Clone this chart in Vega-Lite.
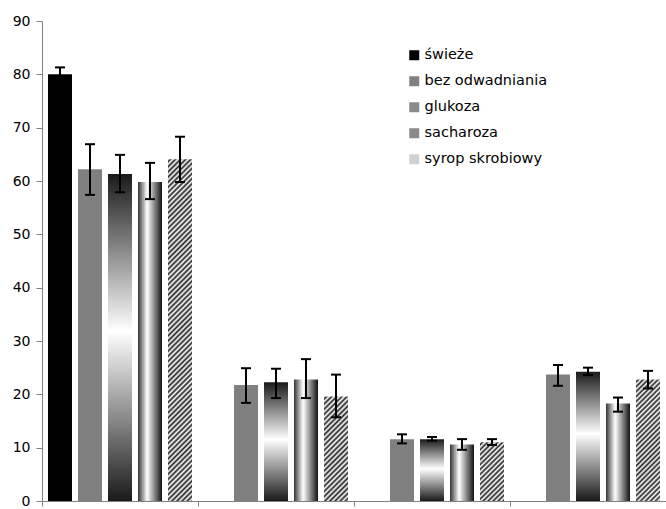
{
  "$schema": "https://vega.github.io/schema/vega-lite/v6.json",
  "width": 624,
  "height": 480,
  "autosize": {"type": "none"},
  "padding": {"left": 42, "top": 21, "right": 0, "bottom": 8},
  "background": "white",
  "config": {"view": {"stroke": null}, "font": "DejaVu Sans"},
  "data": {"values": [
    {"g": "1", "s": "świeże", "v": 80, "lo": 78.8, "hi": 81.3},
    {"g": "1", "s": "bez odwadniania", "v": 62.2, "lo": 57.4, "hi": 66.9},
    {"g": "1", "s": "glukoza", "v": 61.3, "lo": 57.9, "hi": 64.9},
    {"g": "1", "s": "sacharoza", "v": 59.8, "lo": 56.6, "hi": 63.4},
    {"g": "1", "s": "syrop skrobiowy", "v": 64.1, "lo": 59.8, "hi": 68.3},
    {"g": "2", "s": "bez odwadniania", "v": 21.75, "lo": 18.4, "hi": 24.9},
    {"g": "2", "s": "glukoza", "v": 22.25, "lo": 19.3, "hi": 24.8},
    {"g": "2", "s": "sacharoza", "v": 22.8, "lo": 19.3, "hi": 26.6},
    {"g": "2", "s": "syrop skrobiowy", "v": 19.6, "lo": 15.7, "hi": 23.7},
    {"g": "3", "s": "bez odwadniania", "v": 11.6, "lo": 10.8, "hi": 12.5},
    {"g": "3", "s": "glukoza", "v": 11.6, "lo": 11.3, "hi": 12.0},
    {"g": "3", "s": "sacharoza", "v": 10.6, "lo": 9.6, "hi": 11.6},
    {"g": "3", "s": "syrop skrobiowy", "v": 11.0, "lo": 10.5, "hi": 11.6},
    {"g": "4", "s": "bez odwadniania", "v": 23.7, "lo": 21.6, "hi": 25.5},
    {"g": "4", "s": "glukoza", "v": 24.25, "lo": 23.6, "hi": 25.0},
    {"g": "4", "s": "sacharoza", "v": 18.3, "lo": 16.75, "hi": 19.4},
    {"g": "4", "s": "syrop skrobiowy", "v": 22.8, "lo": 21.1, "hi": 24.4}
  ]},
  "encoding": {
    "x": {"field": "g", "type": "nominal",
      "scale": {"paddingInner": 0, "paddingOuter": 0},
      "axis": {"labels": false, "title": null, "domainColor": "#808080", "tickColor": "#808080", "tickSize": 5, "bandPosition": 0, "grid": false}},
    "xOffset": {"field": "s", "type": "nominal",
      "scale": {"domain": ["świeże", "bez odwadniania", "glukoza", "sacharoza", "syrop skrobiowy"], "paddingInner": 0.2, "paddingOuter": 0.2}}
  },
  "layer": [
    {
      "mark": {"type": "bar"},
      "encoding": {
        "y": {"field": "v", "type": "quantitative",
          "scale": {"domain": [0, 90], "nice": false},
          "axis": {"values": [0, 10, 20, 30, 40, 50, 60, 70, 80, 90], "title": null, "grid": false,
            "domainColor": "#808080", "tickColor": "#808080", "tickSize": 6,
            "labelFont": "DejaVu Sans", "labelFontSize": 14, "labelColor": "#000000", "labelPadding": 6}},
        "fill": {
          "condition": [
            {"test": "datum.s === 'glukoza'", "value": {"gradient": "linear", "x1": 0, "y1": 0, "x2": 0, "y2": 1, "stops": [{"offset": 0, "color": "#1a1a1a"}, {"offset": 0.48, "color": "#ffffff"}, {"offset": 1, "color": "#1a1a1a"}]}},
            {"test": "datum.s === 'sacharoza'", "value": {"gradient": "linear", "x1": 0, "y1": 0, "x2": 1, "y2": 0, "stops": [{"offset": 0, "color": "#333333"}, {"offset": 0.38, "color": "#ffffff"}, {"offset": 1, "color": "#111111"}]}},
            {"test": "datum.s === 'syrop skrobiowy' && datum.g === '1'", "value": {"gradient": "linear", "x1": 0, "y1": 0, "x2": 0.0749, "y2": 1.0651, "stops": [
              {"offset":0,"color":"#fff"},{"offset":0.007,"color":"#222"},{"offset":0.014,"color":"#fff"},{"offset":0.021,"color":"#222"},{"offset":0.028,"color":"#fff"},{"offset":0.035,"color":"#222"},{"offset":0.042,"color":"#fff"},{"offset":0.049,"color":"#222"},{"offset":0.056,"color":"#fff"},{"offset":0.063,"color":"#222"},
              {"offset":0.07,"color":"#fff"},{"offset":0.077,"color":"#222"},{"offset":0.084,"color":"#fff"},{"offset":0.091,"color":"#222"},{"offset":0.098,"color":"#fff"},{"offset":0.105,"color":"#222"},{"offset":0.112,"color":"#fff"},{"offset":0.119,"color":"#222"},{"offset":0.126,"color":"#fff"},{"offset":0.133,"color":"#222"},
              {"offset":0.14,"color":"#fff"},{"offset":0.147,"color":"#222"},{"offset":0.154,"color":"#fff"},{"offset":0.161,"color":"#222"},{"offset":0.168,"color":"#fff"},{"offset":0.175,"color":"#222"},{"offset":0.182,"color":"#fff"},{"offset":0.189,"color":"#222"},{"offset":0.196,"color":"#fff"},{"offset":0.203,"color":"#222"},
              {"offset":0.21,"color":"#fff"},{"offset":0.217,"color":"#222"},{"offset":0.224,"color":"#fff"},{"offset":0.231,"color":"#222"},{"offset":0.238,"color":"#fff"},{"offset":0.245,"color":"#222"},{"offset":0.252,"color":"#fff"},{"offset":0.259,"color":"#222"},{"offset":0.266,"color":"#fff"},{"offset":0.273,"color":"#222"},
              {"offset":0.28,"color":"#fff"},{"offset":0.287,"color":"#222"},{"offset":0.294,"color":"#fff"},{"offset":0.301,"color":"#222"},{"offset":0.308,"color":"#fff"},{"offset":0.315,"color":"#222"},{"offset":0.322,"color":"#fff"},{"offset":0.329,"color":"#222"},{"offset":0.336,"color":"#fff"},{"offset":0.343,"color":"#222"},
              {"offset":0.35,"color":"#fff"},{"offset":0.357,"color":"#222"},{"offset":0.364,"color":"#fff"},{"offset":0.371,"color":"#222"},{"offset":0.378,"color":"#fff"},{"offset":0.385,"color":"#222"},{"offset":0.392,"color":"#fff"},{"offset":0.399,"color":"#222"},{"offset":0.406,"color":"#fff"},{"offset":0.413,"color":"#222"},
              {"offset":0.42,"color":"#fff"},{"offset":0.427,"color":"#222"},{"offset":0.434,"color":"#fff"},{"offset":0.441,"color":"#222"},{"offset":0.448,"color":"#fff"},{"offset":0.455,"color":"#222"},{"offset":0.462,"color":"#fff"},{"offset":0.469,"color":"#222"},{"offset":0.476,"color":"#fff"},{"offset":0.483,"color":"#222"},
              {"offset":0.49,"color":"#fff"},{"offset":0.497,"color":"#222"},{"offset":0.504,"color":"#fff"},{"offset":0.511,"color":"#222"},{"offset":0.518,"color":"#fff"},{"offset":0.525,"color":"#222"},{"offset":0.532,"color":"#fff"},{"offset":0.539,"color":"#222"},{"offset":0.546,"color":"#fff"},{"offset":0.553,"color":"#222"},
              {"offset":0.56,"color":"#fff"},{"offset":0.567,"color":"#222"},{"offset":0.574,"color":"#fff"},{"offset":0.581,"color":"#222"},{"offset":0.588,"color":"#fff"},{"offset":0.595,"color":"#222"},{"offset":0.602,"color":"#fff"},{"offset":0.609,"color":"#222"},{"offset":0.616,"color":"#fff"},{"offset":0.623,"color":"#222"},
              {"offset":0.63,"color":"#fff"},{"offset":0.637,"color":"#222"},{"offset":0.644,"color":"#fff"},{"offset":0.651,"color":"#222"},{"offset":0.658,"color":"#fff"},{"offset":0.665,"color":"#222"},{"offset":0.672,"color":"#fff"},{"offset":0.679,"color":"#222"},{"offset":0.686,"color":"#fff"},{"offset":0.693,"color":"#222"},
              {"offset":0.7,"color":"#fff"},{"offset":0.707,"color":"#222"},{"offset":0.714,"color":"#fff"},{"offset":0.721,"color":"#222"},{"offset":0.728,"color":"#fff"},{"offset":0.735,"color":"#222"},{"offset":0.742,"color":"#fff"},{"offset":0.749,"color":"#222"},{"offset":0.756,"color":"#fff"},{"offset":0.763,"color":"#222"},
              {"offset":0.77,"color":"#fff"},{"offset":0.777,"color":"#222"},{"offset":0.784,"color":"#fff"},{"offset":0.791,"color":"#222"},{"offset":0.798,"color":"#fff"},{"offset":0.805,"color":"#222"},{"offset":0.812,"color":"#fff"},{"offset":0.819,"color":"#222"},{"offset":0.826,"color":"#fff"},{"offset":0.833,"color":"#222"},
              {"offset":0.84,"color":"#fff"},{"offset":0.847,"color":"#222"},{"offset":0.854,"color":"#fff"},{"offset":0.861,"color":"#222"},{"offset":0.868,"color":"#fff"},{"offset":0.875,"color":"#222"},{"offset":0.882,"color":"#fff"},{"offset":0.889,"color":"#222"},{"offset":0.896,"color":"#fff"},{"offset":0.903,"color":"#222"},
              {"offset":0.91,"color":"#fff"},{"offset":0.917,"color":"#222"},{"offset":0.924,"color":"#fff"},{"offset":0.931,"color":"#222"},{"offset":0.938,"color":"#fff"},{"offset":0.945,"color":"#222"},{"offset":0.952,"color":"#fff"},{"offset":0.959,"color":"#222"},{"offset":0.966,"color":"#fff"},{"offset":0.973,"color":"#222"},
              {"offset":0.98,"color":"#fff"},{"offset":0.987,"color":"#222"},{"offset":0.994,"color":"#fff"},{"offset":1,"color":"#222"}
            ]}},
            {"test": "datum.s === 'syrop skrobiowy' && datum.g === '2'", "value": {"gradient": "linear", "x1": 0, "y1": 0, "x2": 0.2682, "y2": 1.168, "stops": [
              {"offset":0,"color":"#fff"},{"offset":0.02,"color":"#222"},{"offset":0.04,"color":"#fff"},{"offset":0.06,"color":"#222"},{"offset":0.08,"color":"#fff"},{"offset":0.1,"color":"#222"},{"offset":0.12,"color":"#fff"},{"offset":0.14,"color":"#222"},{"offset":0.16,"color":"#fff"},{"offset":0.18,"color":"#222"},
              {"offset":0.2,"color":"#fff"},{"offset":0.22,"color":"#222"},{"offset":0.24,"color":"#fff"},{"offset":0.26,"color":"#222"},{"offset":0.28,"color":"#fff"},{"offset":0.3,"color":"#222"},{"offset":0.32,"color":"#fff"},{"offset":0.34,"color":"#222"},{"offset":0.36,"color":"#fff"},{"offset":0.38,"color":"#222"},
              {"offset":0.4,"color":"#fff"},{"offset":0.42,"color":"#222"},{"offset":0.44,"color":"#fff"},{"offset":0.46,"color":"#222"},{"offset":0.48,"color":"#fff"},{"offset":0.5,"color":"#222"},{"offset":0.52,"color":"#fff"},{"offset":0.54,"color":"#222"},{"offset":0.56,"color":"#fff"},{"offset":0.58,"color":"#222"},
              {"offset":0.6,"color":"#fff"},{"offset":0.62,"color":"#222"},{"offset":0.64,"color":"#fff"},{"offset":0.66,"color":"#222"},{"offset":0.68,"color":"#fff"},{"offset":0.7,"color":"#222"},{"offset":0.72,"color":"#fff"},{"offset":0.74,"color":"#222"},{"offset":0.76,"color":"#fff"},{"offset":0.78,"color":"#222"},
              {"offset":0.8,"color":"#fff"},{"offset":0.82,"color":"#222"},{"offset":0.84,"color":"#fff"},{"offset":0.86,"color":"#222"},{"offset":0.88,"color":"#fff"},{"offset":0.9,"color":"#222"},{"offset":0.92,"color":"#fff"},{"offset":0.94,"color":"#222"},{"offset":0.96,"color":"#fff"},{"offset":0.98,"color":"#222"},
              {"offset":1,"color":"#fff"}
            ]}},
            {"test": "datum.s === 'syrop skrobiowy' && datum.g === '3'", "value": {"gradient": "linear", "x1": 0, "y1": 0, "x2": 0.4893, "y2": 1.207, "stops": [
              {"offset":0,"color":"#fff"},{"offset":0.03,"color":"#222"},{"offset":0.06,"color":"#fff"},{"offset":0.09,"color":"#222"},{"offset":0.12,"color":"#fff"},{"offset":0.15,"color":"#222"},{"offset":0.18,"color":"#fff"},{"offset":0.21,"color":"#222"},{"offset":0.24,"color":"#fff"},{"offset":0.27,"color":"#222"},
              {"offset":0.3,"color":"#fff"},{"offset":0.33,"color":"#222"},{"offset":0.36,"color":"#fff"},{"offset":0.39,"color":"#222"},{"offset":0.42,"color":"#fff"},{"offset":0.45,"color":"#222"},{"offset":0.48,"color":"#fff"},{"offset":0.51,"color":"#222"},{"offset":0.54,"color":"#fff"},{"offset":0.57,"color":"#222"},
              {"offset":0.6,"color":"#fff"},{"offset":0.63,"color":"#222"},{"offset":0.66,"color":"#fff"},{"offset":0.69,"color":"#222"},{"offset":0.72,"color":"#fff"},{"offset":0.75,"color":"#222"},{"offset":0.78,"color":"#fff"},{"offset":0.81,"color":"#222"},{"offset":0.84,"color":"#fff"},{"offset":0.87,"color":"#222"},
              {"offset":0.9,"color":"#fff"},{"offset":0.93,"color":"#222"},{"offset":0.96,"color":"#fff"},{"offset":0.99,"color":"#222"},{"offset":1,"color":"#222"}
            ]}},
            {"test": "datum.s === 'syrop skrobiowy' && datum.g === '4'", "value": {"gradient": "linear", "x1": 0, "y1": 0, "x2": 0.2275, "y2": 1.1525, "stops": [
              {"offset":0,"color":"#fff"},{"offset":0.017,"color":"#222"},{"offset":0.034,"color":"#fff"},{"offset":0.051,"color":"#222"},{"offset":0.068,"color":"#fff"},{"offset":0.085,"color":"#222"},{"offset":0.102,"color":"#fff"},{"offset":0.119,"color":"#222"},{"offset":0.136,"color":"#fff"},{"offset":0.153,"color":"#222"},
              {"offset":0.17,"color":"#fff"},{"offset":0.187,"color":"#222"},{"offset":0.204,"color":"#fff"},{"offset":0.221,"color":"#222"},{"offset":0.238,"color":"#fff"},{"offset":0.255,"color":"#222"},{"offset":0.272,"color":"#fff"},{"offset":0.289,"color":"#222"},{"offset":0.306,"color":"#fff"},{"offset":0.323,"color":"#222"},
              {"offset":0.34,"color":"#fff"},{"offset":0.357,"color":"#222"},{"offset":0.374,"color":"#fff"},{"offset":0.391,"color":"#222"},{"offset":0.408,"color":"#fff"},{"offset":0.425,"color":"#222"},{"offset":0.442,"color":"#fff"},{"offset":0.459,"color":"#222"},{"offset":0.476,"color":"#fff"},{"offset":0.493,"color":"#222"},
              {"offset":0.51,"color":"#fff"},{"offset":0.527,"color":"#222"},{"offset":0.544,"color":"#fff"},{"offset":0.561,"color":"#222"},{"offset":0.578,"color":"#fff"},{"offset":0.595,"color":"#222"},{"offset":0.612,"color":"#fff"},{"offset":0.629,"color":"#222"},{"offset":0.646,"color":"#fff"},{"offset":0.663,"color":"#222"},
              {"offset":0.68,"color":"#fff"},{"offset":0.697,"color":"#222"},{"offset":0.714,"color":"#fff"},{"offset":0.731,"color":"#222"},{"offset":0.748,"color":"#fff"},{"offset":0.765,"color":"#222"},{"offset":0.782,"color":"#fff"},{"offset":0.799,"color":"#222"},{"offset":0.816,"color":"#fff"},{"offset":0.833,"color":"#222"},
              {"offset":0.85,"color":"#fff"},{"offset":0.867,"color":"#222"},{"offset":0.884,"color":"#fff"},{"offset":0.901,"color":"#222"},{"offset":0.918,"color":"#fff"},{"offset":0.935,"color":"#222"},{"offset":0.952,"color":"#fff"},{"offset":0.969,"color":"#222"},{"offset":0.986,"color":"#fff"},{"offset":1,"color":"#222"}
            ]}}
          ],
          "field": "s", "type": "nominal",
          "scale": {
            "domain": ["świeże", "bez odwadniania", "glukoza", "sacharoza", "syrop skrobiowy"],
            "range": ["#000000", "#808080", "#8a8a8a", "#8a8a8a", "#d0d0d0"]
          },
          "legend": {"title": null, "orient": "none", "legendX": 365, "legendY": 27, "symbolType": "square", "symbolSize": 100, "symbolStrokeWidth": 0, "symbolOpacity": 1, "labelFont": "DejaVu Sans", "labelFontSize": 14.5, "labelColor": "#000000", "labelOffset": 3, "rowPadding": 11, "padding": 0, "labelLimit": 300,
            "encode": {"symbols": {"update": {"fill": {"value": {"expr": "datum.value === 'glukoza' ? {gradient: 'linear', x1: 0, y1: 0, x2: 0, y2: 1, stops: [{offset: 0, color: '#ffffff'}, {offset: 0.15, color: '#ffffff'}, {offset: 0.25, color: '#555555'}, {offset: 0.4, color: '#ffffff'}, {offset: 0.6, color: '#ffffff'}, {offset: 0.75, color: '#333333'}, {offset: 0.9, color: '#333333'}, {offset: 1, color: '#ffffff'}]} : datum.value === 'sacharoza' ? {gradient: 'linear', x1: 0, y1: 0, x2: 1, y2: 0, stops: [{offset: 0, color: '#333333'}, {offset: 0.3, color: '#333333'}, {offset: 0.4, color: '#ffffff'}, {offset: 0.6, color: '#ffffff'}, {offset: 0.7, color: '#555555'}, {offset: 1, color: '#555555'}]} : datum.value === 'syrop skrobiowy' ? {gradient: 'linear', x1: 0, y1: 0, x2: 1, y2: 1, stops: [{offset: 0, color: '#ffffff'}, {offset: 0.22, color: '#ffffff'}, {offset: 0.32, color: '#333333'}, {offset: 0.42, color: '#ffffff'}, {offset: 0.58, color: '#ffffff'}, {offset: 0.68, color: '#333333'}, {offset: 0.78, color: '#ffffff'}, {offset: 1, color: '#ffffff'}]} : datum.value === 'bez odwadniania' ? '#808080' : '#000000'"}}}}}
          }
        }
      }
    },
    {
      "mark": {"type": "rule", "color": "#000000", "strokeWidth": 2},
      "encoding": {"y": {"field": "lo", "type": "quantitative"}, "y2": {"field": "hi"}}
    },
    {
      "mark": {"type": "tick", "color": "#000000", "thickness": 2, "size": 10, "opacity": 1},
      "encoding": {"y": {"field": "hi", "type": "quantitative"}}
    },
    {
      "mark": {"type": "tick", "color": "#000000", "thickness": 2, "size": 10, "opacity": 1},
      "encoding": {"y": {"field": "lo", "type": "quantitative"}}
    }
  ]
}
